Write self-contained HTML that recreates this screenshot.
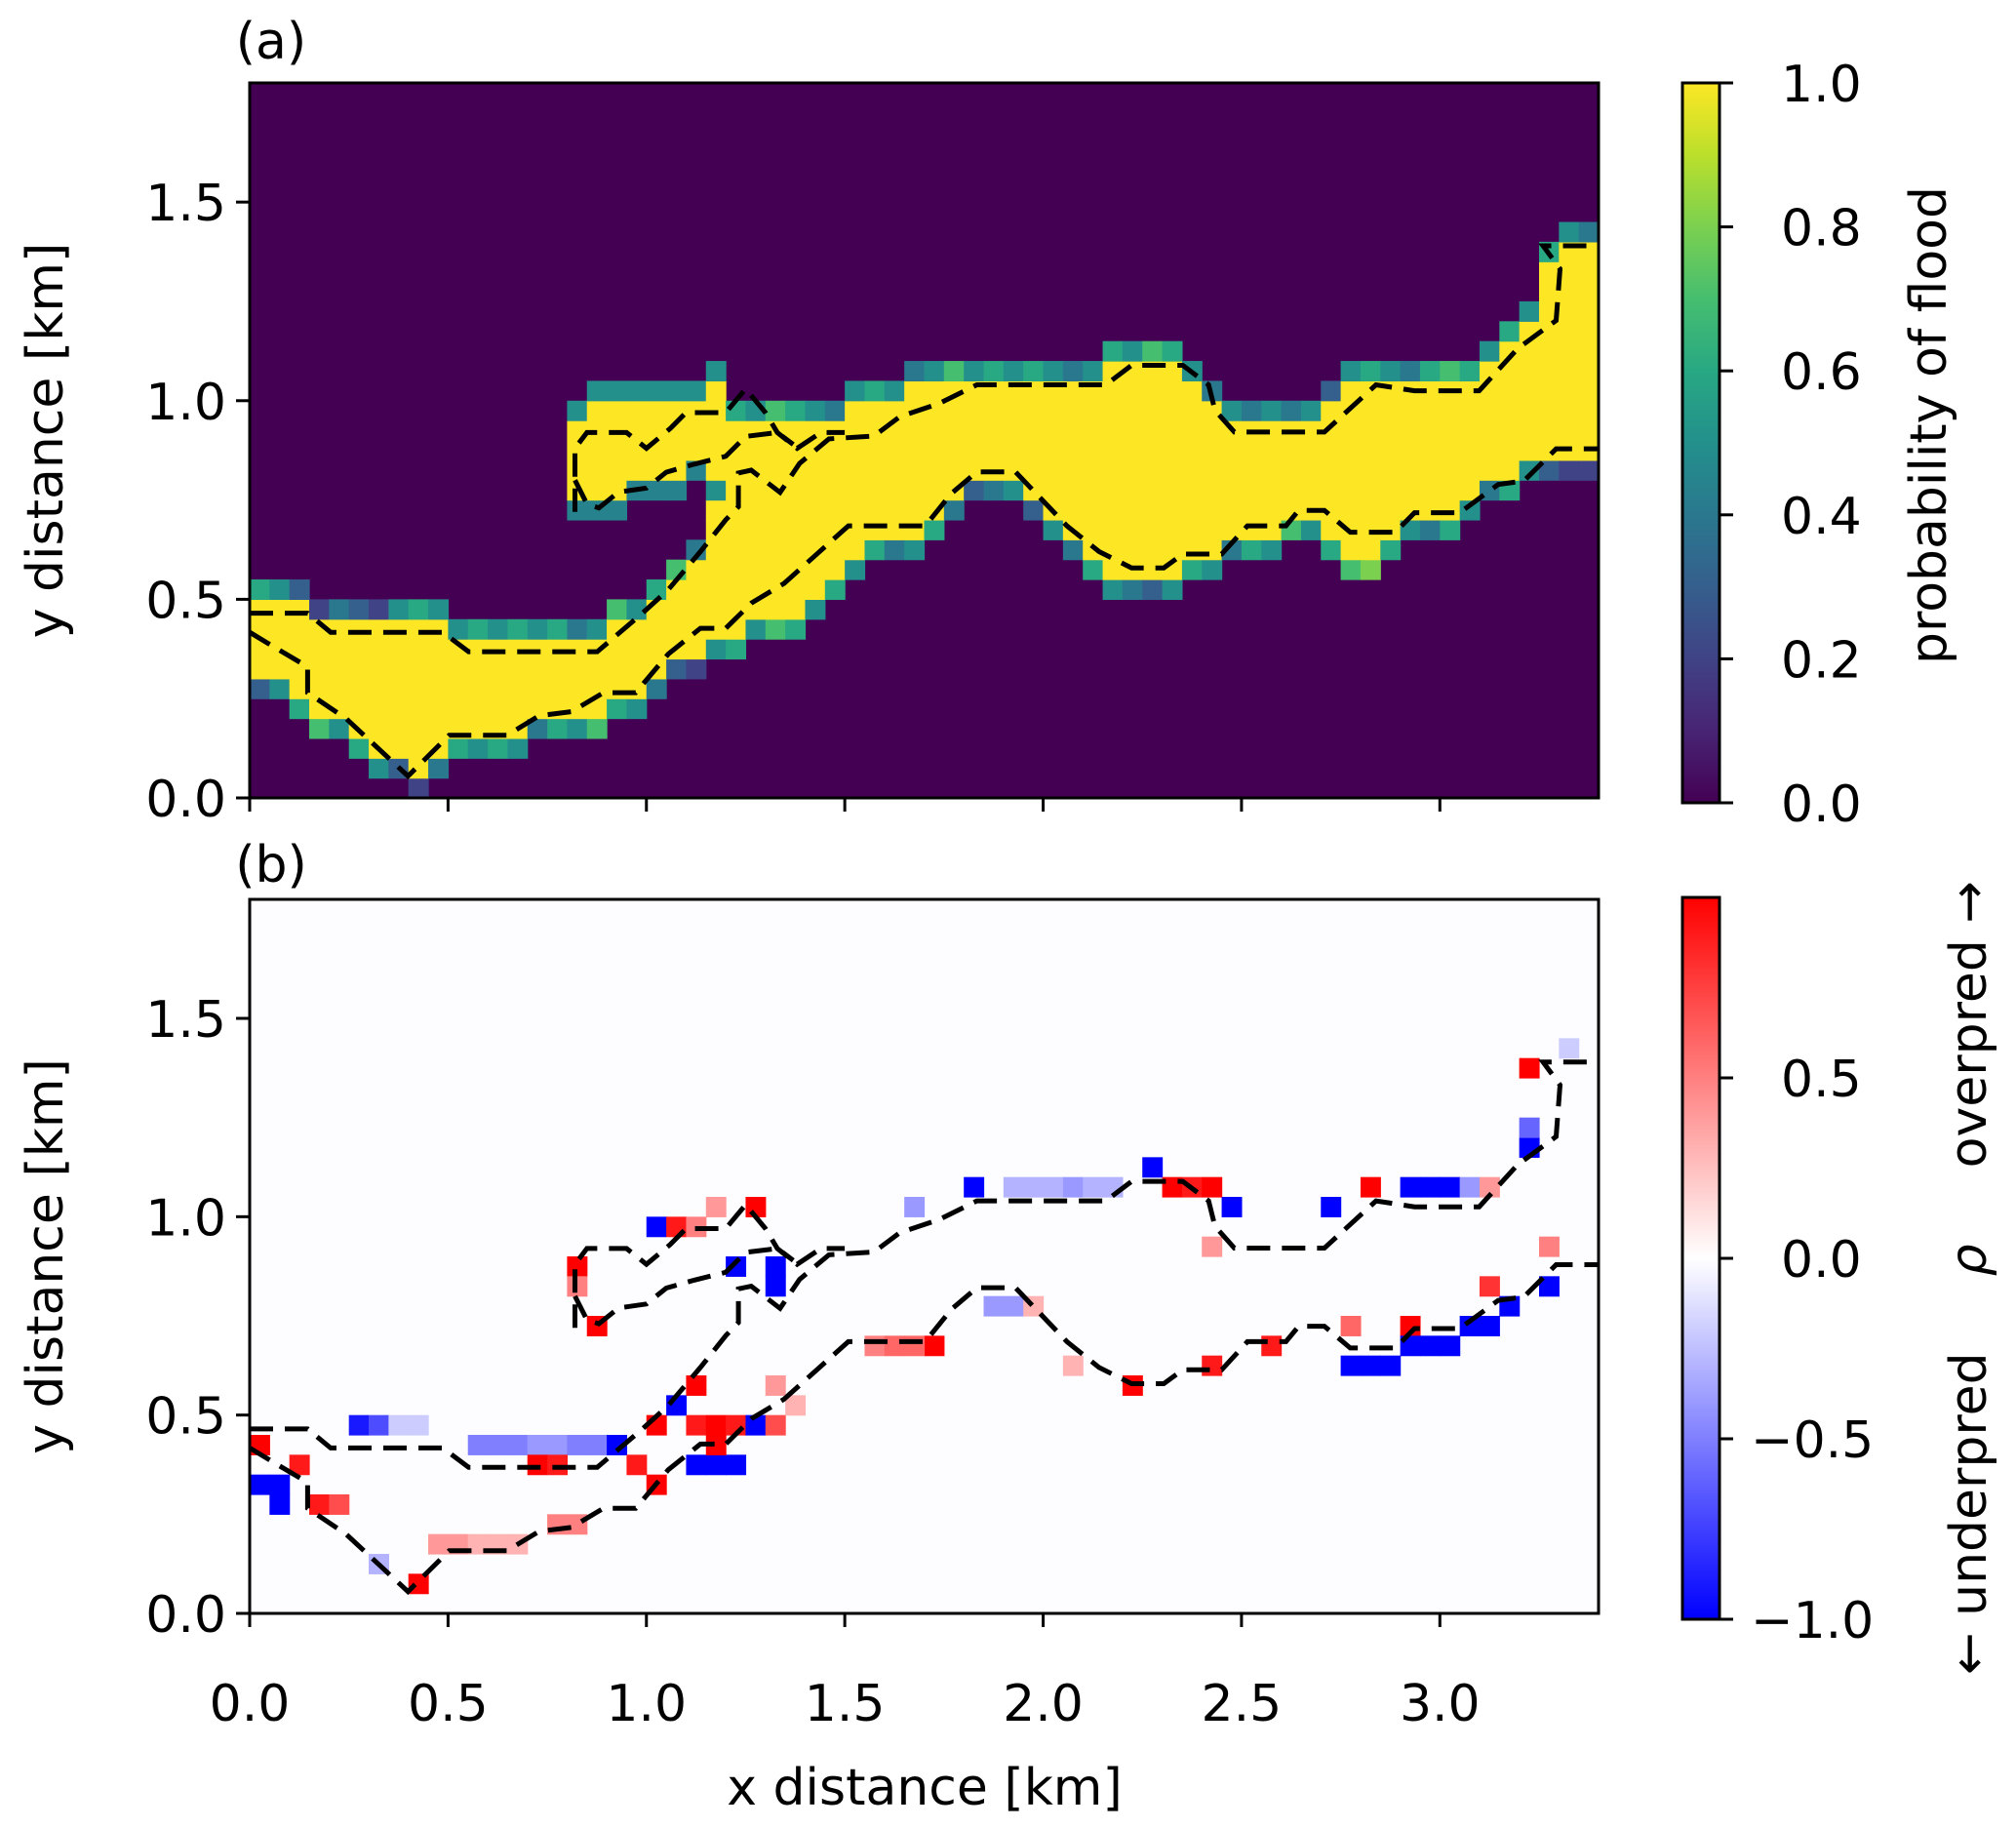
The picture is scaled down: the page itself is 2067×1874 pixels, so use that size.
<!DOCTYPE html>
<html><head><meta charset="utf-8">
<style>
html,body{margin:0;padding:0;background:#fff;}
svg{display:block;font-family:"DejaVu Sans","Liberation Sans",sans-serif;}
</style></head>
<body>
<svg id="fig" width="2067" height="1874" viewBox="0 0 2067 1874" xmlns="http://www.w3.org/2000/svg">
<g id="pa"></g>
<g id="pb"></g>
<g id="lines"></g>
<g id="axes"></g>
</svg>
<script>
// ---- data ----
const nCols = 68, nRows = 36, cell = 0.05;
const mainLo = [6,6,5,4,4,3,2,2,1,2,3,3,3,3,4,4,4,4,5,5,6,7,7,8,8,9,9,9,10,11,12,13,13,13,14,15,16,16,16,15,14,13,12,11,11,11,11,12,12,13,13,13,14,14,13,12,12,13,14,14,14,15,16,16,17,17,17,17];
const mainHi = [9,9,9,8,8,8,8,8,8,8,7,7,7,7,7,7,7,7,8,8,9,10,11,14,18,18,18,18,18,18,19,19,19,20,20,20,20,20,20,20,20,20,20,21,21,21,21,20,19,18,18,18,18,18,19,20,20,20,20,20,20,20,21,22,23,26,27,27];
const edgeLo = [0.3,0.5,0.6,0.7,0.5,0.6,0.5,0.3,0.2,0.4,0.6,0.5,0.6,0.5,0.4,0.6,0.5,0.7,0.6,0.5,0.4,0.3,0.2,0.5,0.6,0.5,0.7,0.6,0.5,0.6,0.5,0.6,0.4,0.5,0.6,0.4,0.3,0.4,0.5,0.3,0.5,0.4,0.6,0.5,0.4,0.3,0.5,0.6,0.5,0.4,0.6,0.5,0.7,0.5,0.6,0.7,0.8,0.6,0.5,0.4,0.6,0.5,0.4,0.6,0.5,0.3,0.2,0.2];
const edgeHi = [0.6,0.5,0.3,0.2,0.4,0.3,0.2,0.5,0.6,0.5,0.5,0.6,0.5,0.6,0.5,0.6,0.4,0.5,0.7,0.5,0.6,0.7,0.4,0.5,0.6,0.5,0.7,0.6,0.5,0.4,0.5,0.6,0.5,0.4,0.5,0.7,0.5,0.6,0.5,0.6,0.5,0.4,0.5,0.6,0.5,0.7,0.6,0.5,0.4,0.5,0.4,0.5,0.4,0.5,0.3,0.5,0.6,0.5,0.4,0.6,0.7,0.6,0.5,0.6,0.5,0.6,0.5,0.4];
const islCol = [16,17,18,19,20,21,22,23];
const islLo  = [15,15,15,16,16,16,17,16];
const islHi  = [18,19,19,19,19,19,19,20];
// panel b nonzero cells
const errCol = [0,1,1,0,2,3,4,5,6,7,8,11,12,13,14,15,16,17,14,15,18,19,20,20,21,22,22,23,24,22,23,24,23,25,26,26,27,20,21,22,23,25,24,26,26,16,17,16,33,36,38,39,40,41,42,43,45,46,47,48,49,48,54,56,58,59,60,61,62,64,64,64,66,34,31,32,33,37,38,39,41,44,48,51,55,55,56,57,58,58,59,60,61,62,62,63,65,65,8,6,9,10,11,12,13,15,16];
const errRow = [6,6,5,8,7,5,5,9,9,9,9,8,8,8,8,8,8,8,7,7,8,7,6,9,10,11,9,9,9,7,7,7,8,9,9,11,10,19,19,19,20,20,17,16,17,17,14,16,20,21,21,21,21,21,21,21,22,21,21,21,20,18,20,21,21,21,21,21,21,23,24,27,28,13,13,13,13,15,15,15,12,11,12,13,14,12,12,12,14,13,13,13,14,14,16,15,16,18,1,2,3,3,3,3,3,4,4];
const errVal = [-1,-1,-1,1,0.9,0.9,0.7,-0.9,-0.7,-0.2,-0.2,-0.5,-0.5,-0.5,-0.4,-0.4,-0.5,-0.5,1,0.9,-1,0.9,1,1,-1,1,0.9,1,0.9,-1,-1,-1,1,-1,0.7,0.4,0.3,-1,0.9,0.5,0.4,1,-1,-1,-1,1,1,0.5,-0.4,-1,-0.3,-0.3,-0.3,-0.4,-0.3,-0.3,-1,1,0.9,1,-1,0.4,-1,1,-1,-1,-1,-0.4,0.4,-1,-0.6,1,-0.2,1,0.5,0.6,0.6,-0.4,-0.4,0.3,0.3,1,0.9,0.9,0.6,-1,-1,-1,1,-1,-1,-1,-1,-1,0.8,-1,-1,0.5,1,-0.3,0.4,0.4,0.3,0.3,0.3,0.5,0.5];
// dashed contours (km)
const upperX = [0,0.146,0.204,0.487,0.552,0.876,0.99,1.055,1.136,1.2,1.232,1.232,1.264,1.337,1.386,1.46,1.574,1.639,1.736,1.833,2.158,2.223,2.352,2.417,2.433,2.482,2.709,2.839,2.936,3.099,3.196,3.293,3.303,3.26,3.4];
const upperY = [0.465,0.465,0.417,0.417,0.368,0.368,0.465,0.524,0.62,0.70,0.733,0.818,0.825,0.769,0.842,0.904,0.911,0.96,0.992,1.04,1.04,1.089,1.089,1.04,0.976,0.921,0.921,1.04,1.025,1.025,1.131,1.202,1.332,1.39,1.39];
const lowerX = [0,0.065,0.146,0.146,0.243,0.399,0.503,0.649,0.73,0.811,0.892,0.973,1.055,1.136,1.2,1.265,1.347,1.509,1.703,1.768,1.833,1.93,2.06,2.141,2.223,2.304,2.352,2.45,2.515,2.612,2.644,2.709,2.774,2.888,2.936,3.05,3.147,3.212,3.293,3.4];
const lowerY = [0.417,0.378,0.33,0.265,0.2,0.055,0.158,0.158,0.207,0.217,0.265,0.265,0.362,0.427,0.427,0.491,0.54,0.685,0.685,0.766,0.821,0.821,0.685,0.62,0.579,0.579,0.614,0.614,0.685,0.685,0.724,0.724,0.669,0.669,0.718,0.718,0.789,0.798,0.879,0.879];
const loopX = [0.82,0.82,0.85,0.95,1.0,1.06,1.1,1.2,1.25,1.3,1.33,1.38,1.44,1.5];
const loopY = [0.72,0.88,0.92,0.92,0.88,0.93,0.97,0.97,1.03,0.97,0.92,0.88,0.92,0.92];
const innerX = [0.82,0.85,0.88,0.93,1.0,1.05,1.12,1.2,1.25,1.33,1.37];
const innerY = [0.80,0.74,0.73,0.77,0.78,0.82,0.84,0.86,0.91,0.92,0.89];
const xTicks = [0,0.5,1.0,1.5,2.0,2.5,3.0];
const xTickLabels = ["0.0","0.5","1.0","1.5","2.0","2.5","3.0"];
const yTicks = [0,0.5,1.0,1.5];
const yTickLabels = ["0.0","0.5","1.0","1.5"];
const cbaTicks = [0,0.2,0.4,0.6,0.8,1.0];
const cbaLabels = ["0.0","0.2","0.4","0.6","0.8","1.0"];
const cbbTicks = [-1,-0.5,0,0.5];
const cbbLabels = ["\u22121.0","\u22120.5","0.0","0.5"];

// ---- layout ----
const X0=256, X1=1639, XMAX=3.4, YMAX=1.8;
const A0=818, A1=85, B0=1654, B1=922;
const FS=52;
const xS = km => X0 + km*(X1-X0)/XMAX;
const yA = km => A0 - km*(A0-A1)/YMAX;
const yB = km => B0 - km*(B0-B1)/YMAX;
const NS="http://www.w3.org/2000/svg";
function mk(tag, attrs, parent){const e=document.createElementNS(NS,tag);for(const k in attrs)e.setAttribute(k,attrs[k]);parent.appendChild(e);return e;}

const vir=[[68,1,84],[72,40,120],[62,74,137],[49,104,142],[38,130,142],[31,158,137],[53,183,121],[109,205,89],[180,222,44],[253,231,37]];
function viridis(t){t=Math.max(0,Math.min(1,t));const p=t*(vir.length-1),i=Math.min(vir.length-2,Math.floor(p)),f=p-i;const c=vir[i].map((v,k)=>Math.round(v+(vir[i+1][k]-v)*f));return `rgb(${c})`;}
function bwr(t){t=Math.max(-1,Math.min(1,t));if(t<0){const f=1+t;return `rgb(${Math.round(255*f)},${Math.round(255*f)},255)`;}const f=1-t;return `rgb(255,${Math.round(255*f)},${Math.round(255*f)})`;}

// panel a grid
const grid=[];for(let i=0;i<nCols;i++){grid.push(new Array(nRows).fill(0));}
for(let i=0;i<nCols;i++){for(let r=mainLo[i];r<=mainHi[i];r++)grid[i][r]=1;if(mainLo[i]-1>=0)grid[i][mainLo[i]-1]=Math.max(grid[i][mainLo[i]-1],edgeLo[i]);if(mainHi[i]+1<nRows)grid[i][mainHi[i]+1]=Math.max(grid[i][mainHi[i]+1],edgeHi[i]);}
for(let k=0;k<islCol.length;k++){const i=islCol[k];for(let r=islLo[k];r<=islHi[k];r++)grid[i][r]=1;grid[i][islLo[k]-1]=Math.max(grid[i][islLo[k]-1],0.45);grid[i][islHi[k]+1]=Math.max(grid[i][islHi[k]+1],0.5);}
const pa=document.getElementById('pa');
mk('rect',{x:X0,y:A1,width:X1-X0,height:A0-A1,fill:viridis(0)},pa);
for(let i=0;i<nCols;i++)for(let r=0;r<nRows;r++){const v=grid[i][r];if(v<=0)continue;
 const x=xS(i*cell),w=xS((i+1)*cell)-x,y=yA((r+1)*cell),h=yA(r*cell)-y;
 const c=mk('rect',{x:x,y:y,width:w+0.6,height:h+0.6,fill:viridis(v)},pa);
 
 }
const pb=document.getElementById('pb');
mk('rect',{x:X0,y:B1,width:X1-X0,height:B0-B1,fill:'#fdfdff'},pb);
for(let k=0;k<errCol.length;k++){const i=errCol[k],r=errRow[k];
 const x=xS(i*cell),w=xS((i+1)*cell)-x,y=yB((r+1)*cell),h=yB(r*cell)-y;
 const c=mk('rect',{x:x,y:y,width:w+0.6,height:h+0.6,fill:bwr(errVal[k])},pb);
 
 }

// contours
const lg=document.getElementById('lines');
function poly(xs,ys,yf,name){const pts=xs.map((x,j)=>`${xS(x).toFixed(1)},${yf(ys[j]).toFixed(1)}`).join(' ');
 const p=mk('polyline',{points:pts,fill:'none',stroke:'#000','stroke-width':5,'stroke-dasharray':'24,12'},lg);
 
 }
[[yA,'a'],[yB,'b']].forEach(([f,s])=>{poly(upperX,upperY,f,'upper-bank-contour-'+s);poly(lowerX,lowerY,f,'lower-bank-contour-'+s);poly(loopX,loopY,f,'loop-contour-'+s);poly(innerX,innerY,f,'inner-contour-'+s);});

// axes
const ax=document.getElementById('axes');
function txt(x,y,s,size,anchor,rot,name){const t=mk('text',{x:x,y:y,'font-size':size,'text-anchor':anchor||'middle',fill:'#000'},ax);if(rot)t.setAttribute('transform',`rotate(${rot} ${x} ${y})`);t.textContent=s;return t;}
[[A0,A1,yA,'a'],[B0,B1,yB,'b']].forEach(([b0,b1,yf,s])=>{
 const fr=mk('rect',{x:X0,y:b1,width:X1-X0,height:b0-b1,fill:'none',stroke:'#000','stroke-width':3},ax);
 
 
 xTicks.forEach((t,j)=>{mk('line',{x1:xS(t),x2:xS(t),y1:b0,y2:b0+14,stroke:'#000','stroke-width':3},ax);
   if(s==='b')txt(xS(t),b0+110,xTickLabels[j],FS,'middle',0,'x-tick-label');});
 yTicks.forEach((t,j)=>{mk('line',{x1:X0-14,x2:X0,y1:yf(t),y2:yf(t),stroke:'#000','stroke-width':3},ax);
   txt(X0-24,yf(t)+19,yTickLabels[j],FS,'end',0,'y-tick-label');});
 txt(64,(b0+b1)/2,'y distance [km]',FS,'middle',-90,'y-axis-title');
});
txt(278,60,'(a)',FS,'middle',0,'panel-a-label');
txt(278,904,'(b)',FS,'middle',0,'panel-b-label');
txt(948,1850,'x distance [km]',FS,'middle',0,'x-axis-title');

// colorbars
const CX0=1725,CX1=1763;
const defs=mk('defs',{},ax);
const ga=mk('linearGradient',{id:'ga',x1:0,y1:1,x2:0,y2:0},defs);
for(let k=0;k<=10;k++)mk('stop',{offset:k/10,'stop-color':viridis(k/10)},ga);
const gb=mk('linearGradient',{id:'gb',x1:0,y1:1,x2:0,y2:0},defs);
for(let k=0;k<=10;k++)mk('stop',{offset:k/10,'stop-color':bwr(-1+k/5)},gb);
const CA0=823,CA1=85,CB0=1660,CB1=920;
const cbA=mk('rect',{x:CX0,y:CA1,width:CX1-CX0,height:CA0-CA1,fill:'url(#ga)',stroke:'#000','stroke-width':3},ax);


const cbB=mk('rect',{x:CX0,y:CB1,width:CX1-CX0,height:CB0-CB1,fill:'url(#gb)',stroke:'#000','stroke-width':3},ax);


cbaTicks.forEach((t,j)=>{const y=CA0-t*(CA0-CA1);mk('line',{x1:CX1,x2:CX1+14,y1:y,y2:y,stroke:'#000','stroke-width':3},ax);txt(1826,y+19,cbaLabels[j],FS,'start',0,'colorbar-a-tick-label');});
cbbTicks.forEach((t,j)=>{const y=CB0-(t+1)/2*(CB0-CB1);mk('line',{x1:CX1,x2:CX1+14,y1:y,y2:y,stroke:'#000','stroke-width':3},ax);txt(t<0?1795:1826,y+19,cbbLabels[j],FS,'start',0,'colorbar-b-tick-label');});
txt(1995,(CA0+CA1)/2-18,'probability of flood',FS,'middle',-90,'colorbar-a-title');
const tb=txt(2036,(CB0+CB1)/2+20,'',FS,'middle',-90,'colorbar-b-title');
tb.innerHTML='\u2190 underpred\u2003\u2002<tspan font-style="italic">\u03C1</tspan>\u2003\u2002overpred \u2192';
</script>
</body></html>
